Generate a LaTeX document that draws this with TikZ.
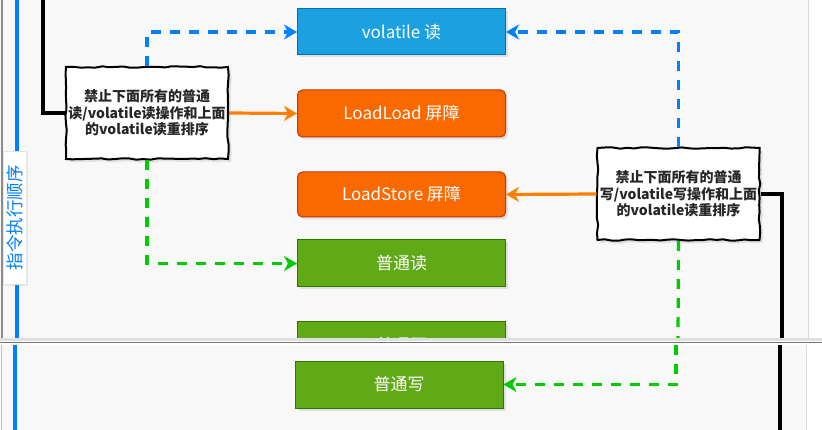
\documentclass[tikz,border=0pt]{standalone}
\usepackage{fontspec}
\setmainfont{Noto Sans CJK SC}
\newfontfamily\cjk{Noto Sans CJK SC}
\usetikzlibrary{arrows.meta}
\usetikzlibrary{decorations.pathmorphing}
\usetikzlibrary{shadows}

\definecolor{bgcol}{HTML}{F8F8F8}
\definecolor{vblue}{HTML}{1BA1E2}
\definecolor{vbluedk}{HTML}{006EAF}
\definecolor{ldorange}{HTML}{FA6800}
\definecolor{ldorangedk}{HTML}{C73500}
\definecolor{nogreen}{HTML}{60A917}
\definecolor{nogreendk}{HTML}{2D7600}
\definecolor{dashblue}{HTML}{007FFF}
\definecolor{dashgreen}{HTML}{00CC00}
\definecolor{arrorange}{HTML}{FF8000}

\begin{document}
\begin{tikzpicture}[x=1pt,y=-1pt,
  opbox/.style args={#1/#2}{draw=#2, fill=#1, line width=1pt,
    minimum width=208pt, minimum height=46pt, inner sep=0pt,
    text=white, font=\cjk\fontsize{17}{20}\selectfont,
    drop shadow={opacity=0.2,shadow xshift=2.5pt,shadow yshift=-2.5pt}},
  note/.style={draw=black, fill=white, line width=2pt,
    minimum width=162pt, minimum height=92pt, inner sep=1pt,
    align=center, text=black!85, font=\cjk\bfseries\fontsize{14}{16.5}\selectfont,
    decorate, decoration={random steps, segment length=7pt, amplitude=0.8pt},
    drop shadow={opacity=0.2,shadow xshift=3pt,shadow yshift=-3pt}},
  bluedash/.style={draw=dashblue, line width=3.2pt, dash pattern=on 10pt off 9pt,
    -{Stealth[length=13pt,width=15pt,inset=4pt]}},
  greendash/.style={draw=dashgreen, line width=3.2pt, dash pattern=on 10pt off 9pt,
    -{Stealth[length=13pt,width=15pt,inset=4pt]}},
  greenplain/.style={draw=dashgreen, line width=3.2pt, dash pattern=on 10pt off 9pt},
  orangearr/.style={draw=arrorange, line width=3.2pt,
    -{Stealth[length=13pt,width=15pt,inset=4pt]}},
  orderline/.style={draw=black, line width=3.4pt},
  timeline/.style={draw=dashblue, line width=3.6pt}]

\useasboundingbox (0,0) rectangle (822,430);
\fill[white] (0,0) rectangle (822,430);
% upper screenshot
\fill[bgcol] (0,0) rectangle (808,338);
\draw[black!15, line width=1pt] (808,0) -- (808,338);
\draw[black!45, line width=1.5pt] (2,0) -- (2,338);
% lower screenshot
\fill[bgcol] (0,345) rectangle (806,430);
\draw[black!15, line width=1pt] (806,345) -- (806,430);
\draw[black!25, line width=1pt] (1,345) -- (1,430);
% seam
\fill[black!12] (0,338) rectangle (822,341.5);
\draw[black!55, line width=1.5pt] (0,342.5) -- (822,342.5);

% order line on the left
\coordinate (ttop) at (17,0);
\coordinate (tbot) at (17,338);
\coordinate (ttop2) at (15,345);
\coordinate (tbot2) at (15,430);
\draw[timeline] (ttop) -- (tbot);
\draw[timeline] (ttop2) -- (tbot2);
\node[rotate=90, fill=white, draw=black!10, minimum width=133pt, minimum height=23pt,
  inner sep=0pt, text=dashblue, font=\cjk\fontsize{17.5}{20}\selectfont,
  drop shadow={opacity=0.15,shadow xshift=2pt,shadow yshift=-2pt}]
  (order) at (14.5,218) {指令执行顺序};

% operations
\node[opbox=vblue/vbluedk] (vread) at (401.5,32) {volatile 读};
\node[opbox=ldorange/ldorangedk, rounded corners=5pt, minimum height=47pt]
  (loadload) at (401.5,113.5) {LoadLoad 屏障};
\node[opbox=ldorange/ldorangedk, rounded corners=5pt, minimum height=45pt]
  (loadstore) at (401.5,194.5) {LoadStore 屏障};
\node[opbox=nogreen/nogreendk, minimum height=47pt] (nread) at (401.5,263.5) {普通读};
\begin{scope}
  \clip (0,0) rectangle (822,338);
  \node[opbox=nogreen/nogreendk] (nwritecut) at (401.5,345) {普通写};
\end{scope}
\node[opbox=nogreen/nogreendk, minimum height=47pt] (nwrite) at (399,384.5) {普通写};

% notes
\node[note] (lnote) at (147,113)
  {禁止下面所有的普通\\读/volatile读操作和上面\\的volatile读重排序};
\node[note] (rnote) at (678.5,194)
  {禁止下面所有的普通\\写/volatile写操作和上面\\的volatile读重排序};

% black lines into the notes
\coordinate (ltop) at (43,0);
\draw[orderline] (ltop) |- (lnote.west);
\coordinate (rbot) at (782,338);
\coordinate (rtop2) at (780,345);
\coordinate (rbot2) at (780,430);
\draw[orderline] (rnote.east) -| (rbot);
\draw[orderline] (rtop2) -- (rbot2);

% connectors
\draw[bluedash] (lnote.north) |- (vread.west);
\draw[bluedash] (rnote.north) |- (vread.east);
\draw[orangearr] (lnote.east) -- (loadload.west);
\draw[orangearr] (rnote.west) -- (loadstore.east);
\draw[greendash] (lnote.south) |- (nread.west);
\coordinate (gcut) at (678,338);
\coordinate (gcut2) at (676,345);
\draw[greenplain] (rnote.south) -- (gcut);
\draw[greendash] (gcut2) |- (nwrite.east);
\end{tikzpicture}
\end{document}
